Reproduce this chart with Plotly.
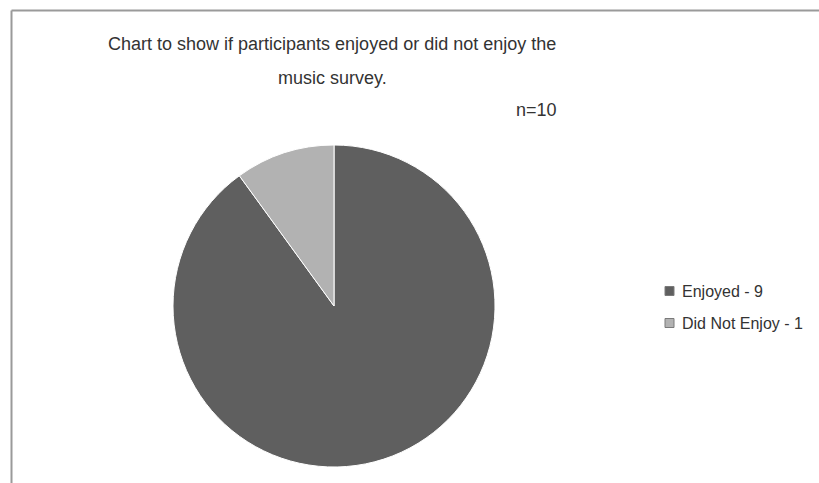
import plotly.graph_objects as go

W, H = 819, 483

labels = ["Enjoyed - 9", "Did Not Enjoy - 1"]
counts = [9, 1]
colors = ["#5f5f5f", "#b2b2b2"]
title_lines = ["Chart to show if participants enjoyed or did not enjoy the", "music survey."]
n_label = "n=10"

# pie placement in pixels (centre and radius)
cx, cy, r = 334, 306, 161

fig = go.Figure(go.Pie(
    labels=labels,
    values=counts,
    sort=False,
    direction="clockwise",
    rotation=0,
    textinfo="none",
    hoverinfo="label+value",
    showlegend=False,
    marker=dict(colors=colors, line=dict(color="#ffffff", width=1)),
    domain=dict(x=[(cx - r) / W, (cx + r) / W], y=[1 - (cy + r) / H, 1 - (cy - r) / H]),
))

font_family = "Liberation Sans, Arial, sans-serif"
text_color = "#333333"

def px(x):
    return x / W

def py(y):
    return 1 - y / H

annotations = []
# two-line title, centred over the pie
for i, line in enumerate(title_lines):
    annotations.append(dict(text=line, x=px(332), y=py(44 + 34 * i), xref="paper", yref="paper",
                            xanchor="center", yanchor="middle", showarrow=False,
                            font=dict(family=font_family, size=18, color=text_color)))
annotations.append(dict(text=n_label, x=px(536), y=py(110), xref="paper", yref="paper",
                        xanchor="center", yanchor="middle", showarrow=False,
                        font=dict(family=font_family, size=18, color=text_color)))

shapes = [
    # chart-area border (left and top edges)
    dict(type="line", xref="paper", yref="paper", x0=px(11.5), x1=px(11.5), y0=0, y1=py(10.5),
         line=dict(color="#9a9a9a", width=2)),
    dict(type="line", xref="paper", yref="paper", x0=px(11.5), x1=1, y0=py(10.5), y1=py(10.5),
         line=dict(color="#9a9a9a", width=2)),
]

# legend: colour swatch + label per slice
for i, (lab, col) in enumerate(zip(labels, colors)):
    yc = 291 + 32 * i
    shapes.append(dict(type="rect", xref="paper", yref="paper",
                       x0=px(665), x1=px(674), y0=py(yc + 4.5), y1=py(yc - 4.5),
                       fillcolor=col, line=dict(color="#7a7a7a", width=1)))
    annotations.append(dict(text=lab, x=px(680), y=py(yc), xref="paper", yref="paper",
                            xanchor="left", yanchor="middle", showarrow=False,
                            font=dict(family=font_family, size=16, color=text_color)))

fig.update_layout(
    width=W, height=H,
    margin=dict(l=0, r=0, t=0, b=0),
    paper_bgcolor="#ffffff",
    plot_bgcolor="#ffffff",
    annotations=annotations,
    shapes=shapes,
)

fig.write_html("out.html")
